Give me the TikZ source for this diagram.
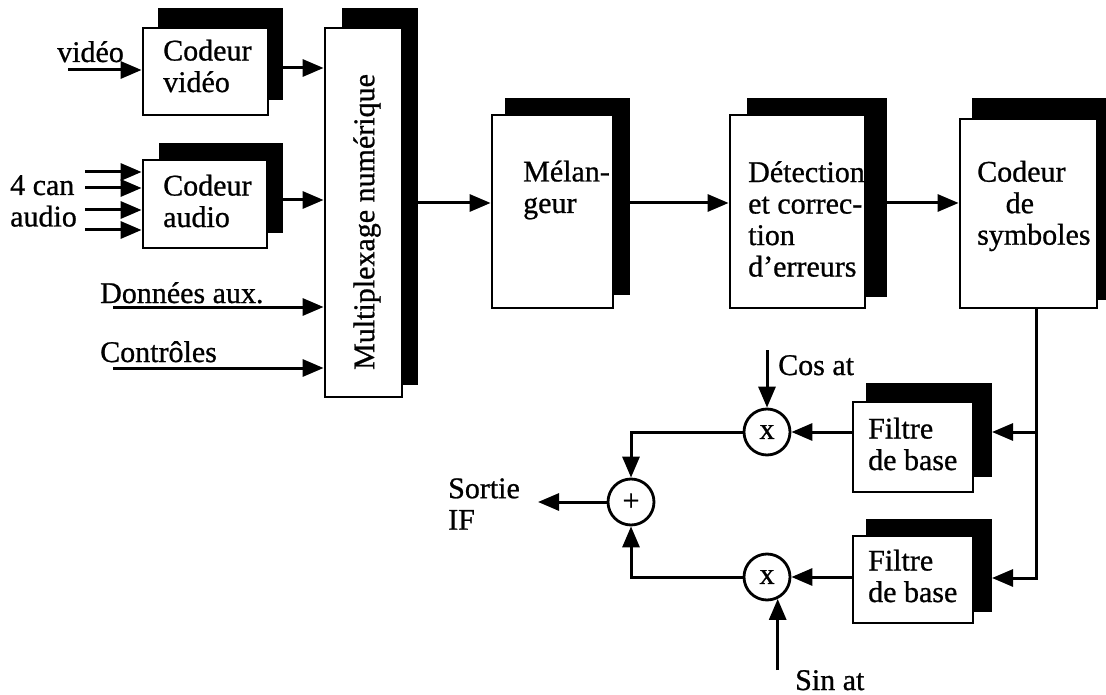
\documentclass[tikz,border=0pt]{standalone}
\usepackage{fontspec}
\setmainfont{Liberation Serif}[FakeBold=0.8]
\usetikzlibrary{arrows.meta}
\begin{document}
\begin{tikzpicture}[x=1pt,y=-1pt,
  shad/.style={fill=black, draw=none, inner sep=0pt, outer sep=0pt},
  blk/.style={draw=black, fill=white, line width=2.8pt, inner sep=0pt},
  lbl/.style={font=\fontsize{30}{31.5}\selectfont, inner sep=0pt, align=left},
  wire/.style={line width=3pt},
  arr/.style={wire, -{Triangle[length=21pt,width=17pt]}},
  op/.style={circle, draw=black, fill=white, line width=2.8pt, minimum size=46pt, inner sep=0pt, font=\fontsize{30}{30}\selectfont}
]
\fill[white] (0,0) rectangle (1106,695);
\useasboundingbox (0,0) rectangle (1106,695);

% Codeur vidéo
\node[shad, minimum width=125pt, minimum height=92pt] (cvS) at (220.5,54) {};
\node[blk, minimum width=125pt, minimum height=87pt] (cv) at (205.5,71.5) {};
\node[lbl, anchor=west] (cvT) at (163,66) {Codeur\\vidéo};

% Codeur audio
\node[shad, minimum width=124pt, minimum height=90pt] (caS) at (221,188) {};
\node[blk, minimum width=124pt, minimum height=88pt] (ca) at (205,204) {};
\node[lbl, anchor=west] (caT) at (163,201) {Codeur\\audio};

% Multiplexage
\node[shad, minimum width=76pt, minimum height=377pt] (muxS) at (380,196.5) {};
\node[blk, minimum width=77pt, minimum height=369pt] (mux) at (363.5,212.5) {};
\node[lbl, rotate=90] (muxT) at (367,222) {Multiplexage numérique};

% Mélangeur
\node[shad, minimum width=125pt, minimum height=197pt] (melS) at (567.5,196.5) {};
\node[blk, minimum width=121pt, minimum height=193pt] (mel) at (552.5,211.5) {};
\node[lbl, anchor=west] (melT) at (523,190) {Mélan-\\geur};

% Détection
\node[shad, minimum width=140pt, minimum height=199pt] (detS) at (817,197.5) {};
\node[blk, minimum width=135pt, minimum height=193pt] (det) at (797.5,211.5) {};
\node[lbl, anchor=west] (detT) at (748,219) {Détection\\et correc-\\tion\\d'erreurs};

% Codeur de symboles
\node[shad, minimum width=134pt, minimum height=202pt] (symS) at (1039,199) {};
\node[blk, minimum width=137pt, minimum height=189pt] (sym) at (1028.5,213.5) {};
\node[lbl, anchor=west] (symT) at (977,206) {Codeur\\\hspace*{0.95em}de\\symboles};

% Filtres
\node[shad, minimum width=126pt, minimum height=94pt] (f1S) at (929,430) {};
\node[blk, minimum width=120pt, minimum height=90pt] (f1) at (913,447) {};
\node[lbl, anchor=west] (f1T) at (868,444) {Filtre\\de base};
\node[shad, minimum width=126pt, minimum height=93pt] (f2S) at (929,565.5) {};
\node[blk, minimum width=120pt, minimum height=87pt] (f2) at (913,579.5) {};
\node[lbl, anchor=west] (f2T) at (868,576) {Filtre\\de base};

% operators
\node[op] (m1) at (767,432) {x};
\node[op] (m2) at (767,577) {x};
\node[op] (add) at (631,502) {+};

% labels
\node[lbl, anchor=base west] (lvid) at (57,62) {vidéo};
\node[lbl, anchor=west] (laud) at (10,201) {4 can\\audio};
\node[lbl, anchor=base west] (ldon) at (100,303) {Données aux.};
\node[lbl, anchor=base west] (lctl) at (100,362) {Contrôles};
\node[lbl, anchor=base west] (lcos) at (778,375) {Cos at};
\node[lbl, anchor=base west] (lsin) at (795,690) {Sin at};
\node[lbl, anchor=west] (lout) at (448,504) {Sortie\\IF};

% coordinates
\coordinate (vin) at (68,70);
\coordinate (a1) at (85,172);
\coordinate (a2) at (85,188);
\coordinate (a3) at (85,210);
\coordinate (a4) at (85,230);
\coordinate (don) at (113,307);
\coordinate (ctl) at (113,368);
\coordinate (b1) at (1036,432);
\coordinate (b2) at (1036,578);
\coordinate (cosc) at (767,350);
\coordinate (outc) at (538,502);

% connectors
\draw[arr] (vin) -- (vin -| cv.west);
\draw[arr] (a1) -- (a1 -| ca.west);
\draw[arr] (a2) -- (a2 -| ca.west);
\draw[arr] (a3) -- (a3 -| ca.west);
\draw[arr] (a4) -- (a4 -| ca.west);
\draw[arr] (cvS.east |- 0,68) -- (mux.west |- 0,68);
\draw[arr] (caS.east |- 0,200) -- (mux.west |- 0,200);
\draw[arr] (don) -- (don -| mux.west);
\draw[arr] (ctl) -- (ctl -| mux.west);
\draw[arr] (muxS.east |- 0,203) -- (mel.west |- 0,203);
\draw[arr] (melS.east |- 0,203) -- (det.west |- 0,203);
\draw[arr] (detS.east |- 0,203) -- (sym.west |- 0,203);
\draw[arr] (sym.south -| b2) -- (b2) -- (b2 -| f2S.east);
\draw[arr] (b1) -- (b1 -| f1S.east);
\draw[arr] (f1.west |- m1) -- (m1.east);
\draw[arr] (f2.west |- m2) -- (m2.east);
\draw[arr] (cosc) -- (m1.north);
\draw[arr] (m2.-64 |- 0,670) -- (m2.-64);
\draw[arr] (m1.west) -| (add.north);
\draw[arr] (m2.west) -| (add.south);
\draw[arr] (add.west) -- (outc);
\end{tikzpicture}
\end{document}
